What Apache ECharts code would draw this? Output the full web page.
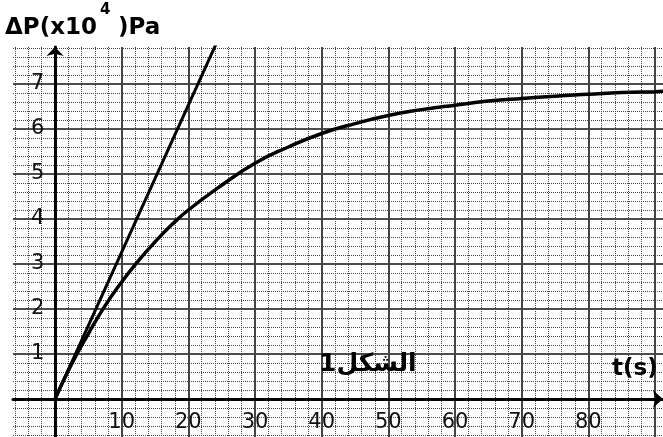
<!DOCTYPE html>
<html><head><meta charset="utf-8">
<script src="https://cdn.jsdelivr.net/npm/echarts@6/dist/echarts.min.js"></script>
<style>html,body{margin:0;padding:0;background:#fff}#c{width:663px;height:437px}</style>
</head><body><div id="c"></div>
<script>
// Curve: t (s) and ΔP (x10^4 Pa)
const curveT = [0, 2.5, 5, 7.5, 10, 12.5, 15, 17.5, 20, 25, 30, 35, 40, 45, 50, 55, 60, 65, 70, 75, 80, 85, 90, 92];
const curveP = [0, 0.78, 1.45, 2.07, 2.6, 3.07, 3.49, 3.87, 4.2, 4.75, 5.24, 5.6, 5.9, 6.12, 6.3, 6.43, 6.53, 6.62, 6.68, 6.73, 6.77, 6.81, 6.83, 6.84];
// Tangent at origin
const tangentT = [0, 24.5];
const tangentP = [0, 8.0];
// Tick labels
const xTickLabels = ['10', '20', '30', '40', '50', '60', '70', '80'];
const yTickLabels = ['1', '2', '3', '4', '5', '6', '7'];
const xName = 't(s)';
const figName = 'الشكل1';
const yNameMain = 'ΔP(x10';
const yNameSup = '4';
const yNameEnd = ')Pa';

const chart = echarts.init(document.getElementById('c'));
const FONT = 'DejaVu Sans';
chart.setOption({
  animation: false,
  backgroundColor: '#fff',
  grid: { left: 13, right: 0, top: 47, bottom: 0, containLabel: false, outerBoundsMode: 'none' },
  xAxis: {
    type: 'value', min: -6.3, max: 91.2, minInterval: 10, maxInterval: 10,
    axisLine: { onZero: true, lineStyle: { color: '#000', width: 3 }, symbol: ['none', 'arrow'], symbolSize: [13, 10] },
    axisTick: { show: false },
    axisLabel: {
      inside: true,
      formatter: v => xTickLabels.includes(String(v)) ? String(v) : '',
      fontSize: 21, color: '#111', margin: 4, fontFamily: FONT, showMinLabel: false, showMaxLabel: false
    },
    splitLine: { show: true, showMinLine: false, showMaxLine: false, lineStyle: { color: '#444', width: 2 } },
    minorTick: { show: false, splitNumber: 5 },
    minorSplitLine: { show: true, lineStyle: { color: '#444', width: 1, type: [1, 1] } }
  },
  yAxis: {
    type: 'value', min: -0.844, max: 7.822, minInterval: 1, maxInterval: 1,
    axisLine: { onZero: true, lineStyle: { color: '#000', width: 3 }, symbol: ['none', 'arrow'], symbolSize: [13, 9] },
    axisTick: { show: false },
    axisLabel: {
      inside: true,
      formatter: v => yTickLabels.includes(String(v)) ? String(v) : '',
      fontSize: 21, color: '#111', margin: 18, fontFamily: FONT, showMinLabel: false, showMaxLabel: false
    },
    splitLine: { show: true, showMinLine: false, showMaxLine: false, lineStyle: { color: '#111', width: 1.5 } },
    minorTick: { show: false, splitNumber: 5 },
    minorSplitLine: { show: true, lineStyle: { color: '#444', width: 1, type: [1, 1] } }
  },
  series: [
    {
      type: 'line', data: curveT.map((t, i) => [t, curveP[i]]), smooth: true, showSymbol: false,
      lineStyle: { color: '#000', width: 3.5 }, z: 5
    },
    {
      type: 'line', data: tangentT.map((t, i) => [t, tangentP[i]]), showSymbol: false,
      lineStyle: { color: '#000', width: 3 }, z: 5
    }
  ],
  graphic: [
    { type: 'text', left: 5, top: 17, z: 10, style: { text: yNameMain, font: 'bold 23px "DejaVu Sans"', fill: '#000' } },
    { type: 'text', left: 100, top: 3, z: 10, style: { text: yNameSup, font: 'bold 15px "DejaVu Sans"', fill: '#000' } },
    { type: 'text', left: 118, top: 17, z: 10, style: { text: yNameEnd, font: 'bold 23px "DejaVu Sans"', fill: '#000' } },
    { type: 'text', left: 612, top: 358, z: 10, style: { text: xName, font: 'bold 23px "DejaVu Sans"', fill: '#000' } },
    { type: 'text', left: 319, top: 352, z: 10, style: { text: figName, font: 'bold 25px "DejaVu Sans"', fill: '#000' } }
  ]
});
</script></body></html>
